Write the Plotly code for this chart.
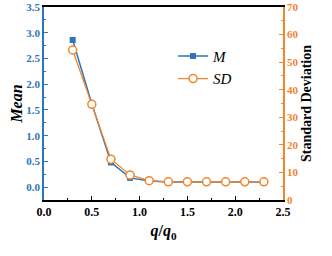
import plotly.graph_objects as go

q_ratio = [0.3, 0.5, 0.7, 0.9, 1.1, 1.3, 1.5, 1.7, 1.9, 2.1, 2.3]
mean_vals = [2.86, 1.62, 0.48, 0.18, 0.12, 0.10, 0.10, 0.10, 0.10, 0.10, 0.10]
sd_vals = [54.4, 34.7, 14.8, 9.1, 7.0, 6.6, 6.6, 6.6, 6.6, 6.6, 6.6]

BLUE = "#2E75B6"
ORANGE = "#F0862D"
FONT = "Liberation Serif"

fig = go.Figure()
fig.add_trace(go.Scatter(
    x=q_ratio, y=sd_vals, yaxis="y2", name="<i>SD</i>", mode="lines+markers",
    line=dict(color=ORANGE, width=1.3),
    marker=dict(symbol="circle", size=8, color="white", line=dict(color=ORANGE, width=1.5)),
    legendrank=2,
))
fig.add_trace(go.Scatter(
    x=q_ratio, y=mean_vals, name="<i>M</i>", mode="lines+markers",
    line=dict(color=BLUE, width=1.5),
    marker=dict(symbol="square", size=6, color=BLUE),
    legendrank=1,
))

fig.update_layout(
    width=332, height=256,
    margin=dict(l=44, r=49, t=7, b=56),
    paper_bgcolor="white", plot_bgcolor="white",
    font=dict(family=FONT, size=12, color="black"),
    showlegend=True,
    legend=dict(x=0.54, y=0.83, xanchor="left", yanchor="top",
                bgcolor="rgba(0,0,0,0)", font=dict(size=15, family=FONT),
                tracegroupgap=0),
    xaxis=dict(
        range=[0, 2.5], dtick=0.5, tickformat=".1f", automargin=False,
        showgrid=False, zeroline=False,
        showline=True, linecolor="black", linewidth=1.5, mirror=True,
        ticks="inside", ticklen=4, tickcolor="black",
        minor=dict(dtick=0.25, ticks="inside", ticklen=2, tickcolor="black"),
        tickfont=dict(family=FONT, size=12, color="black", weight="bold"),
        title=dict(text="<i>q</i>/<i>q</i><sub>0</sub>", font=dict(family=FONT, size=16, weight="bold"), standoff=7),
    ),
    yaxis=dict(
        range=[-0.25, 3.5], dtick=0.5, tickformat=".1f", automargin=False,
        showgrid=False, zeroline=False,
        showline=True, linecolor=BLUE, linewidth=1.5,
        ticks="inside", ticklen=4, tickcolor=BLUE,
        minor=dict(dtick=0.25, ticks="inside", ticklen=2, tickcolor=BLUE),
        tickfont=dict(family=FONT, size=11, color=BLUE, weight="bold"),
        title=dict(text="<i>Mean</i>", font=dict(family=FONT, size=16, weight="bold", color="black"), standoff=0),
    ),
    yaxis2=dict(
        range=[0, 70], dtick=10, overlaying="y", side="right", automargin=False,
        showgrid=False, zeroline=False,
        showline=True, linecolor=ORANGE, linewidth=1.5,
        ticks="inside", ticklen=4, tickcolor=ORANGE,
        minor=dict(dtick=5, ticks="inside", ticklen=2, tickcolor=ORANGE),
        tickfont=dict(family=FONT, size=11, color=ORANGE, weight="bold"),
        title=dict(text="Standard Deviation", font=dict(family=FONT, size=14, weight="bold", color="black"), standoff=4),
    ),
)

fig.write_html("out.html", config={"displayModeBar": False},
               post_script="document.body.style.margin='0';")
